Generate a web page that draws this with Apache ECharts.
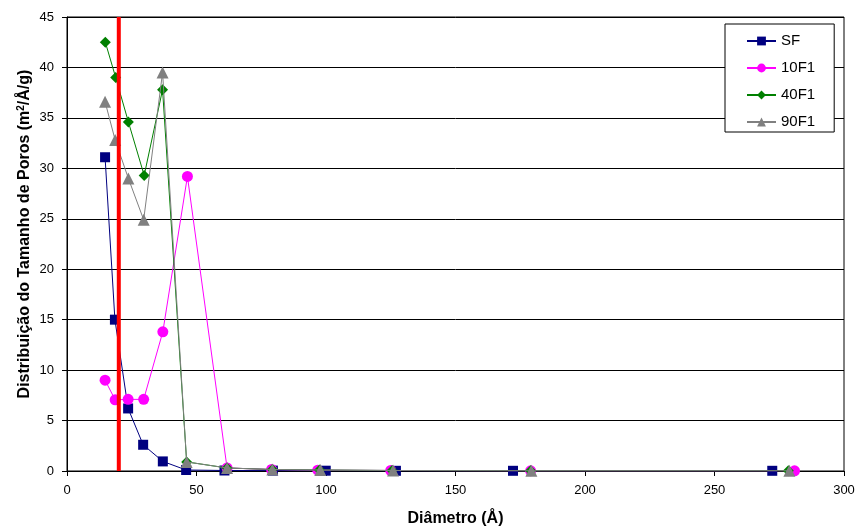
<!DOCTYPE html>
<html>
<head>
<meta charset="utf-8">
<script src="https://cdn.jsdelivr.net/npm/echarts@6/dist/echarts.min.js"></script>
<style>html,body{margin:0;padding:0;background:#fff}#c{width:857px;height:528px}</style>
</head>
<body>
<div id="c"></div>
<script>
var sfX = [14.7, 18.5, 23.6, 29.4, 37.0, 46.0, 60.8, 79.5, 99.9, 127.0, 172.2, 272.3];
var sfY = [31.1, 15.0, 6.2, 2.6, 0.95, 0.1, 0.05, 0.04, 0.03, 0.02, 0.02, 0.02];
var f10X = [14.7, 18.6, 23.6, 29.6, 37.0, 46.5, 61.8, 79.0, 96.8, 125.0, 179.0, 280.9];
var f10Y = [9.0, 7.05, 7.1, 7.1, 13.8, 29.2, 0.3, 0.15, 0.08, 0.05, 0.02, 0.02];
var f40X = [14.8, 18.8, 23.7, 29.8, 36.9, 46.2, 61.8, 79.3, 97.5, 125.5, 179.0, 278.5];
var f40Y = [42.5, 39.0, 34.6, 29.3, 37.8, 0.9, 0.3, 0.15, 0.1, 0.05, 0.02, 0.02];
var f90X = [14.7, 18.6, 23.7, 29.6, 36.9, 46.2, 61.8, 79.3, 97.8, 125.9, 179.3, 278.9];
var f90Y = [36.6, 32.8, 29.0, 24.9, 39.5, 0.9, 0.3, 0.15, 0.1, 0.05, 0.02, 0.02];
var seriesNames = ['SF', '10F1', '40F1', '90F1'];
var refX = 20;
var yMax = 45;

function pairs(xs, ys){ return xs.map(function(x,i){ return [x, ys[i]]; }); }

var chart = echarts.init(document.getElementById('c'), null, {renderer:'canvas'});
var font = 'Liberation Sans, Arial, sans-serif';
chart.setOption({
  animation: false,
  backgroundColor: '#fff',
  grid: {left: 67, right: 13, top: 17, bottom: 57, show: true, borderColor: '#000', borderWidth: 1,
         backgroundColor: 'transparent', containLabel: false, outerBoundsMode: 'none'},
  legend: {
    orient: 'vertical', left: 725, top: 24,
    data: seriesNames,
    backgroundColor: '#fff',
    borderColor: '#000', borderWidth: 1,
    padding: [8, 19, 1, 21],
    itemGap: 9, itemWidth: 29, itemHeight: 11,
    textStyle: {fontFamily: font, fontSize: 15, lineHeight: 18, color: '#000'}
  },
  xAxis: {
    type: 'value', min: 0, max: 300, interval: 50,
    name: 'Diâmetro (Å)', nameLocation: 'middle', nameGap: 40, nameMoveOverlap: false,
    nameTextStyle: {fontFamily: font, fontSize: 16, fontWeight: 'bold', color: '#000'},
    axisLine: {lineStyle: {color: '#000', width: 1}},
    axisTick: {show: true, length: 5, lineStyle: {color: '#000'}},
    axisLabel: {fontFamily: font, fontSize: 13, color: '#000', margin: 13},
    splitLine: {show: false}
  },
  yAxis: {
    type: 'value', min: 0, max: yMax, interval: 5,
    name: '{a|Distribuição do Tamanho de Poros (m}{s|2}{a|/Å/g)}',
    nameLocation: 'middle', nameGap: 34, nameRotate: 90, nameMoveOverlap: false,
    nameTextStyle: {
      padding: [0, 0, 0, 20],
      rich: {
        a: {fontFamily: font, fontSize: 16, fontWeight: 'bold', color: '#000'},
        s: {fontFamily: font, fontSize: 10, fontWeight: 'bold', color: '#000', verticalAlign: 'top', padding: [0,0,7,0]}
      }
    },
    axisLine: {show: true, lineStyle: {color: '#000', width: 1}},
    axisTick: {show: true, length: 5, lineStyle: {color: '#000'}},
    axisLabel: {fontFamily: font, fontSize: 13, color: '#000', margin: 13},
    splitLine: {show: true, lineStyle: {color: '#000', width: 1}}
  },
  series: [
    {
      name: 'SF', type: 'line', data: pairs(sfX, sfY), z: 3,
      symbol: 'rect', symbolSize: 10,
      itemStyle: {color: '#000080'}, lineStyle: {color: '#000080', width: 1}
    },
    {
      name: '10F1', type: 'line', data: pairs(f10X, f10Y), z: 4,
      symbol: 'circle', symbolSize: 11,
      itemStyle: {color: '#FF00FF'}, lineStyle: {color: '#FF00FF', width: 1}
    },
    {
      name: '40F1', type: 'line', data: pairs(f40X, f40Y), z: 5,
      symbol: 'diamond', symbolSize: 11,
      itemStyle: {color: '#008000'}, lineStyle: {color: '#008000', width: 1}
    },
    {
      name: '90F1', type: 'line', data: pairs(f90X, f90Y), z: 6,
      symbol: 'triangle', symbolSize: 12,
      itemStyle: {color: '#808080'}, lineStyle: {color: '#808080', width: 1}
    },
    {
      name: 'ref', type: 'line', data: [[refX, 0], [refX, yMax]], z: 7,
      symbol: 'none', silent: true,
      lineStyle: {color: '#FF0000', width: 4}
    }
  ]
});
</script>
</body>
</html>
